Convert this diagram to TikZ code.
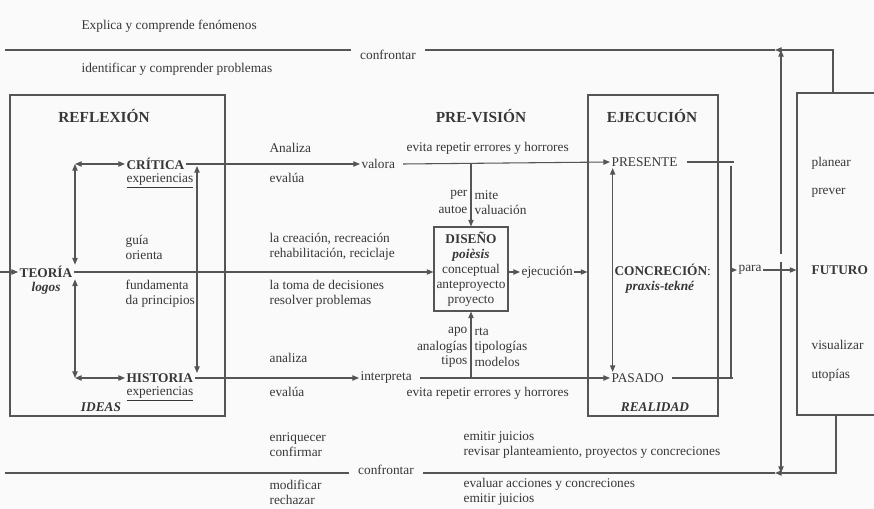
\documentclass[tikz,border=0pt]{standalone}
\usepackage{fontspec}
\setmainfont{Liberation Serif}
\usepackage{xcolor}
\usepackage{tikz}
\usetikzlibrary{
    arrows.meta,
    fit,
    positioning,
    calc
}
\definecolor{inkgray}{RGB}{55,55,55}
\definecolor{linegray}{RGB}{85,85,85}
\definecolor{paper}{RGB}{250,250,250}

\begin{document}
\begin{tikzpicture}[
    x=0.75pt, y=-0.75pt,
    every node/.style={
        text=inkgray,
        font=\fontsize{10}{11.3}\selectfont,
        inner sep=1pt
    },
    label/.style={
        anchor=west,
        align=left
    },
    head/.style={
        font=\fontsize{11.5}{13}\selectfont\bfseries
    },
    keyword/.style={
        font=\fontsize{10}{12}\selectfont\bfseries
    },
    subword/.style={
        font=\fontsize{10}{12}\selectfont\bfseries\itshape
    },
    confront/.style={
        inner xsep=7pt
    },
    frame/.style={
        draw=linegray,
        line width=0.8pt,
        inner sep=0pt
    },
    link/.style={
        draw=linegray,
        line width=0.8pt
    },
    flow/.style={
        link,
        -{Triangle[length=5pt,width=4pt]}
    },
    both/.style={
        link,
        {Triangle[length=5pt,width=4pt]}-{Triangle[length=5pt,width=4pt]}
    }
]

    \useasboundingbox[fill=paper] (0,0) rectangle (874,509);

    % Frames
    \node[frame, fit={(10,95) (225,416)}] (reflexion) {};
    \node[frame, fit={(434,227) (508,311)}] (diseno) {};
    \node[frame, fit={(588,95) (718,416)}] (ejecucion) {};
    \node[frame, fit={(797,93) (900,415)}] (futuro) {};

    % Top band
    \node[label] (explica) at (80,26) {Explica y comprende fenómenos};
    \node[label] (identifica) at (80,69) {identificar y comprender problemas};
    \node[confront] (conftop) at (388,55) {confrontar};

    % REFLEXIÓN
    \node[head] (reflexiontit) at (104,116) {REFLEXIÓN};
    \node[keyword, anchor=west] (critica) at (125,164) {CRÍTICA};
    \node[label] (critexp) at (125,181) {\underline{experiencias}};
    \node[label] (guia) at (124,247) {guía\\orienta};
    \node[label] (fundamenta) at (124,294) {fundamenta\\da principios};
    \node[keyword, anchor=west] (historia) at (125,378) {HISTORIA};
    \node[label] (histexp) at (125,394) {\underline{experiencias}};
    \node[subword] (ideas) at (101,407) {IDEAS};
    \node[keyword] (teoria) at (46,272) {TEORÍA};
    \node[subword] (logos) at (46,288) {logos};

    % Middle column
    \node[label] (analiza) at (268,148) {Analiza};
    \node[label] (evalua) at (268,178) {evalúa};
    \node[label] (creacion) at (268,247) {la creación, recreación\\rehabilitación, reciclaje};
    \node[label] (decision) at (268,294) {la toma de decisiones\\resolver problemas};
    \node[label] (analizab) at (268,358) {analiza};
    \node[label] (evaluab) at (268,392) {evalúa};
    \node[label] (valora) at (360,164) {valora};
    \node[label] (interpreta) at (359,378) {interpreta};

    % PRE-VISIÓN
    \node[head] (previsiontit) at (481,116) {PRE-VISIÓN};
    \node[label] (evitatop) at (405,148) {evita repetir errores y horrores};
    \node[label] (evitabot) at (405,393) {evita repetir errores y horrores};
    \node[align=center] (disenotxt) at (471,269) {\textbf{DISEÑO}\\\textbf{\textit{poièsis}}\\conceptual\\anteproyecto\\proyecto};
    \node[anchor=east] (per) at (469,195) {per};
    \node[anchor=west] (mite) at (473,195) {mite};
    \node[anchor=east] (autoe) at (469,210) {autoe};
    \node[anchor=west] (valuacion) at (473,210) {valuación};
    \node[anchor=east] (apo) at (469,332) {apo};
    \node[anchor=west] (rta) at (473,332) {rta};
    \node[anchor=east] (analogias) at (469,347) {analogías};
    \node[anchor=west] (tipologias) at (473,347) {tipologías};
    \node[anchor=east] (tipos) at (469,362) {tipos};
    \node[anchor=west] (modelos) at (473,362) {modelos};
    \node[label] (ejec) at (520,272) {ejecución};

    % EJECUCIÓN
    \node[head] (ejecuciontit) at (652,116) {EJECUCIÓN};
    \node[label] (presente) at (610,162) {PRESENTE};
    \node[label] (concrecion) at (613,270) {\textbf{CONCRECIÓN}:};
    \node[subword] (praxis) at (660,287) {praxis-tekné};
    \node[label] (pasado) at (610,378) {PASADO};
    \node[subword] (realidad) at (655,407) {REALIDAD};
    \node[label] (para) at (737,270) {para};

    % FUTURO
    \node[label] (planear) at (810,163) {planear};
    \node[label] (prever) at (810,193) {prever};
    \node[keyword, anchor=west] (futurotxt) at (810,270) {FUTURO};
    \node[label] (visualizar) at (810,345) {visualizar};
    \node[label] (utopias) at (810,375) {utopías};

    % Bottom band
    \node[label] (enriquecer) at (268,445) {enriquecer\\confirmar};
    \node[label] (modificar) at (268,492) {modificar\\rechazar};
    \node[label] (emitir) at (462,445) {emitir juicios\\revisar planteamiento, proyectos y concreciones};
    \node[label] (evaluar) at (462,492) {evaluar acciones y concreciones\\emitir juicios};
    \node[confront] (confbot) at (386,470) {confrontar};

    % Helper points
    \coordinate (entry) at (0,272);
    \coordinate (critcorner) at (75,164);
    \coordinate (histcorner) at (75,378);
    \coordinate (crittop) at (197,166);
    \coordinate (histbot) at (197,373);
    \coordinate (presend) at (734,162);
    \coordinate (pasend) at (733,378);
    \coordinate (colltop) at (731,166);
    \coordinate (collbot) at (731,378);
    \coordinate (collpara) at (731,270);
    \coordinate (junup) at (781,254);
    \coordinate (jundown) at (781,262);
    \coordinate (fbtop) at (833,50);
    \coordinate (fbtopmid) at (775,50);
    \coordinate (fbtopend) at (5,50);
    \coordinate (fbbot) at (836,473);
    \coordinate (fbbotmid) at (775,473);
    \coordinate (fbbotend) at (5,473);

    % Inside REFLEXIÓN
    \draw[flow] (entry) -- (teoria.west);
    \draw[both] (critcorner) -- (critica.west);
    \draw[both] (histcorner) -- (historia.west);
    \draw[both] (critcorner) -- (critcorner |- teoria.north);
    \draw[both] (teoria.south -| histcorner) -- (histcorner);
    \draw[both] (crittop) -- (histbot);

    % Main flows
    \draw[flow] (critica.east) -- (valora.west);
    \draw[flow] ([xshift=5pt]valora.east) -- (presente.west);
    \draw[flow] (historia.east) -- (interpreta.west);
    \draw[flow] ([xshift=5pt]interpreta.east) -- (pasado.west);
    \draw[flow] (teoria.east) -- (teoria.east -| diseno.west);
    \draw[flow] (diseno.north |- valora) -- (diseno.north);
    \draw[flow] (diseno.south |- interpreta) -- (diseno.south);
    \draw[flow] (diseno.east |- ejec.west) -- (ejec.west);
    \draw[flow] (ejec.east) -- (ejec.east -| ejecucion.west);

    % Inside EJECUCIÓN
    \draw[both] ([xshift=2pt]presente.south west) -- ([xshift=2pt]pasado.north west);
    \draw[link] ([xshift=6pt]presente.east) -- (presend);
    \draw[link] ([xshift=5pt]pasado.east) -- (pasend);
    \draw[link] (colltop) -- (collbot);
    \draw[flow] (collpara) -- (para.west);
    \draw[flow] (para.east) -- (para.east -| futuro.west);

    % Feedback to the top and bottom
    \draw[flow] (junup) -- (junup |- fbtop);
    \draw[flow] (jundown) -- (jundown |- fbbot);
    \draw[flow] (futuro.north -| fbtop) -- (fbtop) -- (fbtopmid);
    \draw[link] (fbtopmid) -- (conftop.east |- fbtop);
    \draw[link] (conftop.west |- fbtop) -- (fbtopend);
    \draw[flow] (futuro.south -| fbbot) -- (fbbot) -- (fbbotmid);
    \draw[link] (fbbotmid) -- (confbot.east |- fbbot);
    \draw[link] (confbot.west |- fbbot) -- (fbbotend);

\end{tikzpicture}
\end{document}
